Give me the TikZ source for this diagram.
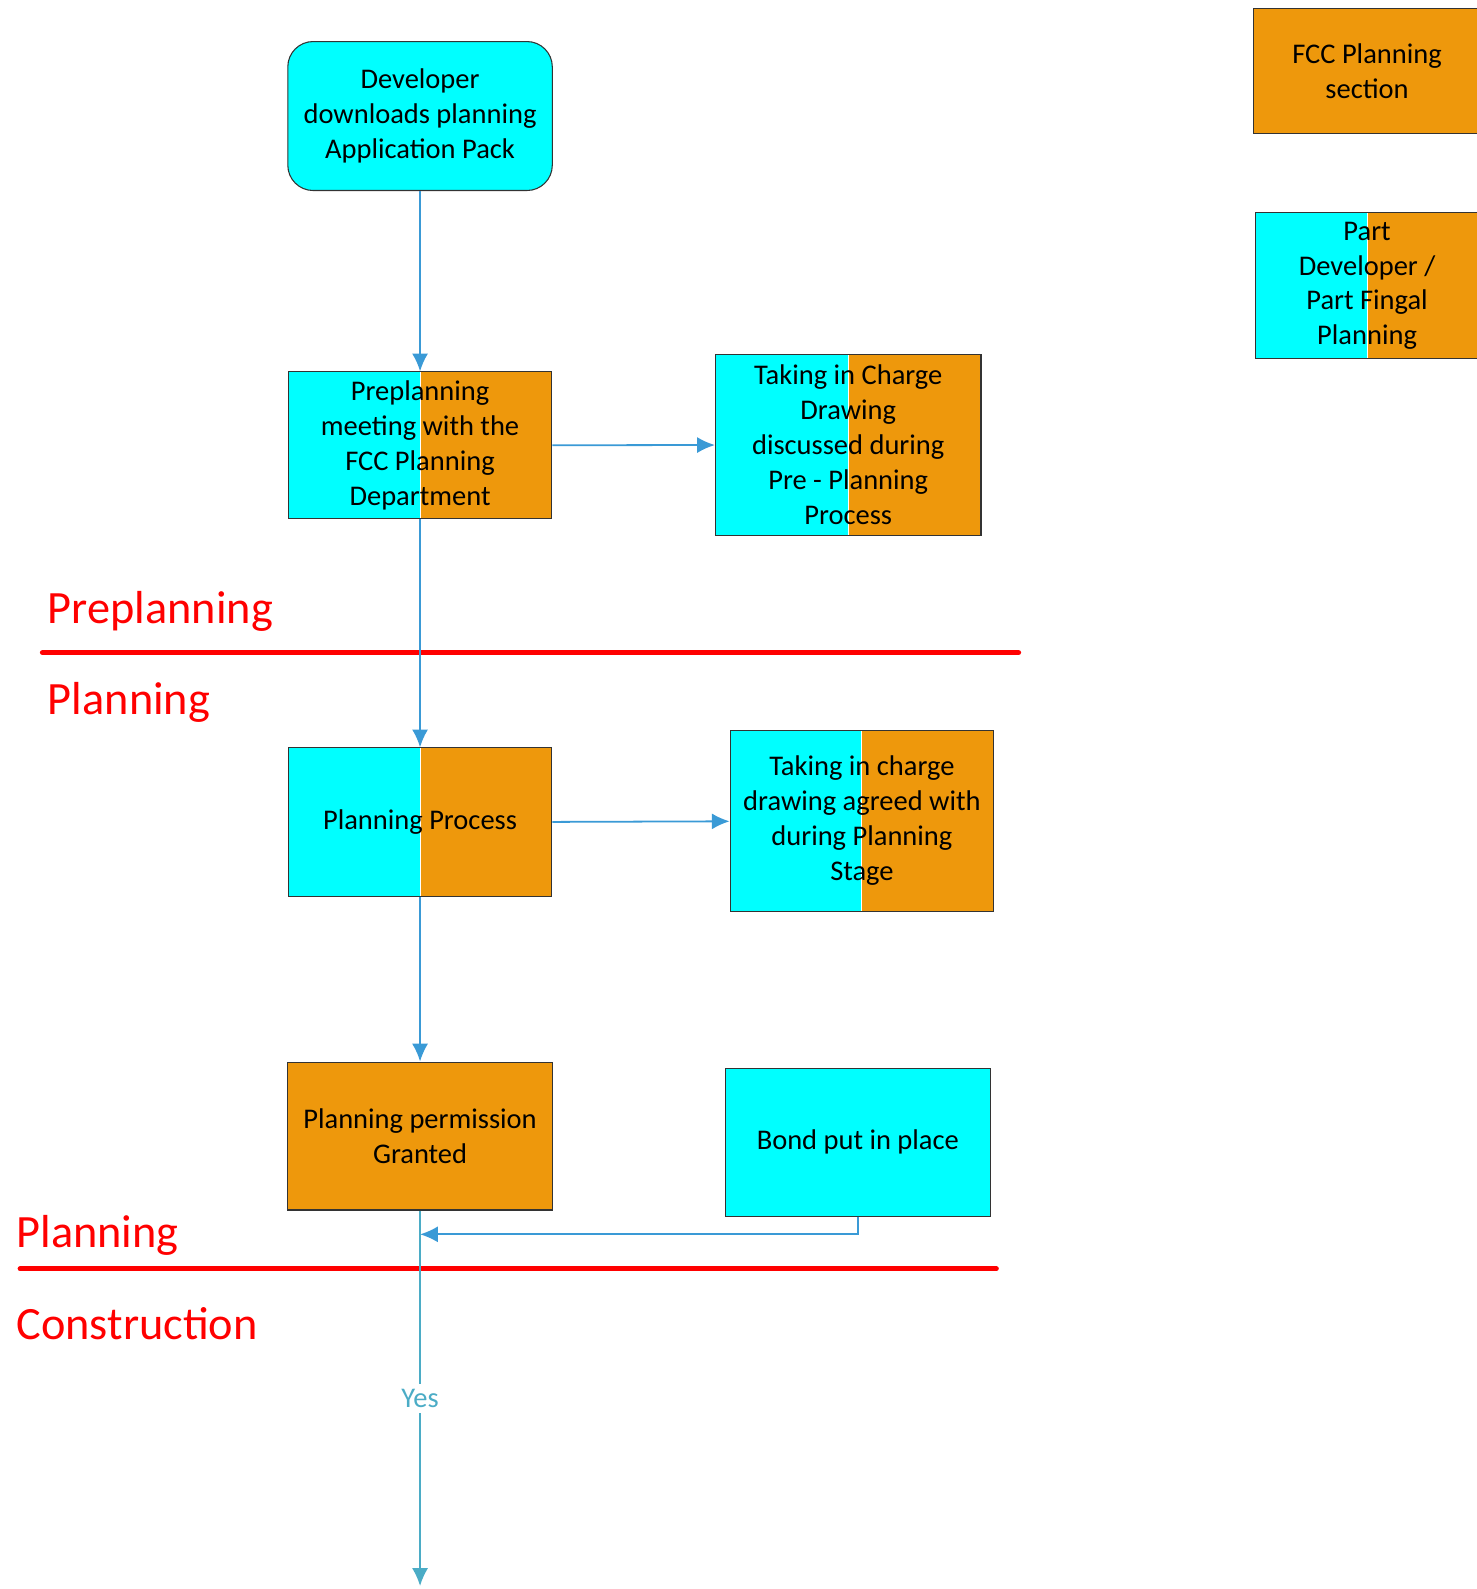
\documentclass[tikz,border=0pt]{standalone}
\usepackage{fontspec}
\setmainfont{Carlito}
\usepackage{tikz}
\usetikzlibrary{arrows.meta}
\usetikzlibrary{calc}
\definecolor{cyanfill}{HTML}{00FFFF}
\definecolor{orangefill}{HTML}{EE980C}
\definecolor{flowcolor}{HTML}{3A9AD6}
\definecolor{yescolor}{HTML}{4BACC6}
\definecolor{stagecolor}{HTML}{FF0000}

\begin{document}
\begin{tikzpicture}[
  box/.style={draw=black!80, line width=0.6pt, align=center, inner sep=2pt,
    minimum width=5.2cm, minimum height=2.94cm, font=\fontsize{16}{19.6}\selectfont},
  cyanbox/.style={box, fill=cyanfill},
  orangebox/.style={box, fill=orangefill},
  splitbox/.style={box, path picture={
    \fill[cyanfill] (path picture bounding box.south west) rectangle (path picture bounding box.north);
    \fill[orangefill] (path picture bounding box.south) rectangle (path picture bounding box.north east);
    \draw[white, line width=0.5pt] (path picture bounding box.south) -- (path picture bounding box.north);}},
  flow/.style={flowcolor, line width=1pt, -{Latex[length=10pt,width=9pt]}},
  stage/.style={stagecolor, anchor=base west, inner sep=0pt, font=\fontsize{26}{31}\selectfont},
  divider/.style={stagecolor, line width=3pt, line cap=round},
]
\useasboundingbox (0,0) rectangle (29.14,-31.36);

% legend
\node[orangebox, minimum width=4.48cm, minimum height=2.48cm] (legfcc) at (26.98,-1.4) {FCC Planning\\section};
\node[splitbox, minimum width=4.4cm, minimum height=2.88cm] (legpart) at (26.98,-5.64) {Part\\Developer /\\Part Fingal\\Planning};

% flow
\node[cyanbox, rounded corners=0.5cm, minimum width=5.22cm] (start) at (8.29,-2.29) {Developer\\downloads planning\\Application Pack};
\node[splitbox, minimum height=2.9cm] (premeet) at (8.29,-8.79) {Preplanning\\meeting with the\\FCC Planning\\Department};
\node[splitbox, minimum width=5.24cm, minimum height=3.56cm] (ticpre) at (16.74,-8.78) {Taking in Charge\\Drawing\\discussed during\\Pre - Planning\\Process};
\node[splitbox] (process) at (8.29,-16.23) {Planning Process};
\node[splitbox, minimum height=3.56cm] (ticplan) at (17.01,-16.2) {Taking in charge\\drawing agreed with\\during Planning\\Stage};
\node[orangebox, minimum width=5.22cm, minimum height=2.92cm] (granted) at (8.29,-22.42) {Planning permission\\Granted};
\node[cyanbox, minimum width=5.22cm, minimum height=2.92cm] (bond) at (16.93,-22.54) {Bond put in place};

\coordinate (join) at (8.29,-24.36);
\coordinate (finish) at (8.29,-31.3);

% stages
\draw[divider] (0.84,-12.88) -- (20.1,-12.88);
\draw[divider] (0.4,-25.04) -- (19.66,-25.04);
\node[stage] (lblpre) at (0.94,-12.3) {Preplanning};
\node[stage] (lblplan) at (0.94,-14.1) {Planning};
\node[stage] (lblplanb) at (0.32,-24.62) {Planning};
\node[stage] (lblcons) at (0.32,-26.44) {Construction};

\draw[flow] (start) -- (premeet);
\draw[flow] (premeet) -- (ticpre);
\draw[flow] (premeet) -- (process);
\draw[flow] (process) -- (ticplan);
\draw[flow] (process) -- (granted);
\draw[flow] (bond.south) |- (join);
\draw[flow, yescolor] (granted) -- (finish)
  node[midway, fill=white, inner sep=3pt, text=yescolor, font=\fontsize{16}{19.6}\selectfont] (yes) {Yes};
\end{tikzpicture}
\end{document}
